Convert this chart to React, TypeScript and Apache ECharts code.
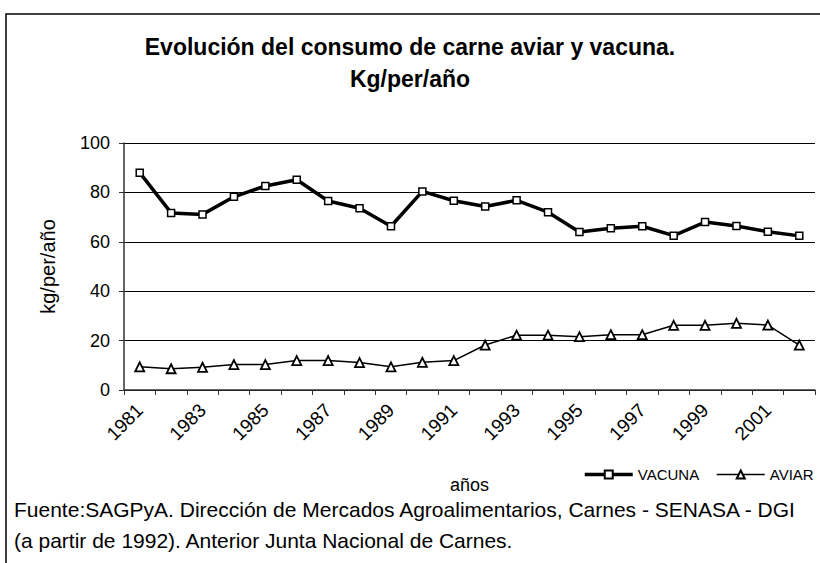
import React, { useEffect, useRef } from "react";
import * as echarts from "echarts";

const years = [
  "1981", "1982", "1983", "1984", "1985", "1986", "1987", "1988", "1989", "1990", "1991",
  "1992", "1993", "1994", "1995", "1996", "1997", "1998", "1999", "2000", "2001", "2002",
];
const vacuna = [
  88, 71.7, 71.1, 78.2, 82.6, 85.1, 76.5, 73.6, 66.3, 80.4, 76.6,
  74.3, 76.8, 72, 64, 65.5, 66.3, 62.5, 68, 66.4, 64.1, 62.4,
];
const aviar = [
  9.4, 8.6, 9.2, 10.3, 10.3, 11.9, 11.9, 11.1, 9.4, 11.2, 11.9,
  18.2, 22.2, 22.2, 21.6, 22.4, 22.4, 26.2, 26.2, 27, 26.3, 18.2,
];
const yTicks = { min: 0, max: 100, interval: 20 };
const titleText = "Evolución del consumo de carne aviar y vacuna.\nKg/per/año";
const yName = "kg/per/año";
const xName = "años";
const note1 = "Fuente:SAGPyA. Dirección de Mercados Agroalimentarios, Carnes - SENASA - DGI";
const note2 = "(a partir de 1992). Anterior Junta Nacional de Carnes.";

const FONT = "'Liberation Sans', Arial, sans-serif";

const legendBase = {
  top: 467,
  padding: 0,
  itemWidth: 48,
  itemHeight: 10,
  textStyle: { fontFamily: FONT, fontSize: 15, color: "#000" },
};

export default function App() {
  const ref = useRef<HTMLDivElement>(null);
  useEffect(() => {
    if (!ref.current) return;
    const chart = echarts.init(ref.current, null, { renderer: "svg" });
    chart.setOption({
      animation: false,
      backgroundColor: "#fff",
      title: {
        text: titleText,
        left: "center",
        top: 26,
        textStyle: {
          fontFamily: FONT,
          fontSize: 23,
          fontWeight: "bold",
          color: "#000",
          lineHeight: 32,
        },
      },
      legend: [
        { ...legendBase, left: 583, data: [{ name: "VACUNA", lineStyle: { width: 3.5 } }] },
        { ...legendBase, left: 716, data: [{ name: "AVIAR", lineStyle: { width: 1.5 } }] },
      ],
      grid: { left: 124, right: 5, top: 143, bottom: 173 },
      xAxis: {
        type: "category",
        data: years,
        boundaryGap: true,
        name: xName,
        nameLocation: "middle",
        nameGap: 86,
        nameTextStyle: { fontFamily: FONT, fontSize: 18, color: "#000" },
        axisLine: { lineStyle: { color: "#333", width: 1.5 } },
        axisTick: { show: true, interval: 0, length: 5, lineStyle: { color: "#333" } },
        axisLabel: {
          interval: 1,
          rotate: 45,
          margin: 17,
          fontFamily: FONT,
          fontSize: 19,
          color: "#000",
        },
      },
      yAxis: {
        type: "value",
        min: yTicks.min,
        max: yTicks.max,
        interval: yTicks.interval,
        name: yName,
        nameLocation: "middle",
        nameRotate: 90,
        nameGap: 66,
        nameTextStyle: { fontFamily: FONT, fontSize: 20, color: "#000" },
        axisLine: { show: true, lineStyle: { color: "#333", width: 1.5 } },
        axisTick: { show: true, length: 5, lineStyle: { color: "#333" } },
        axisLabel: { margin: 14, fontFamily: FONT, fontSize: 18, color: "#000" },
        splitLine: { show: true, lineStyle: { color: "#000", width: 1 } },
      },
      series: [
        {
          name: "VACUNA",
          type: "line",
          data: vacuna,
          symbol: "rect",
          symbolSize: 7,
          lineStyle: { color: "#000", width: 3.5 },
          itemStyle: { color: "#fff", borderColor: "#000", borderWidth: 1.5 },
          z: 3,
        },
        {
          name: "AVIAR",
          type: "line",
          data: aviar,
          symbol: "triangle",
          symbolSize: 9,
          lineStyle: { color: "#000", width: 1.5 },
          itemStyle: { color: "#fff", borderColor: "#000", borderWidth: 1.8 },
          z: 3,
        },
      ],
      graphic: [
        {
          type: "rect",
          shape: { x: 6, y: 14, width: 840, height: 600 },
          style: { fill: "none", stroke: "#000", lineWidth: 1.5 },
          silent: true,
        },
        {
          type: "text",
          left: 14,
          top: 499,
          style: { text: note1, fontFamily: FONT, fontSize: 21, fill: "#000" },
        },
        {
          type: "text",
          left: 14,
          top: 530,
          style: { text: note2, fontFamily: FONT, fontSize: 21, fill: "#000" },
        },
      ],
    });
    return () => chart.dispose();
  }, []);
  return (
    <div
      ref={ref}
      style={{ position: "fixed", left: 0, top: 0, width: 820, height: 563 }}
    />
  );
}
